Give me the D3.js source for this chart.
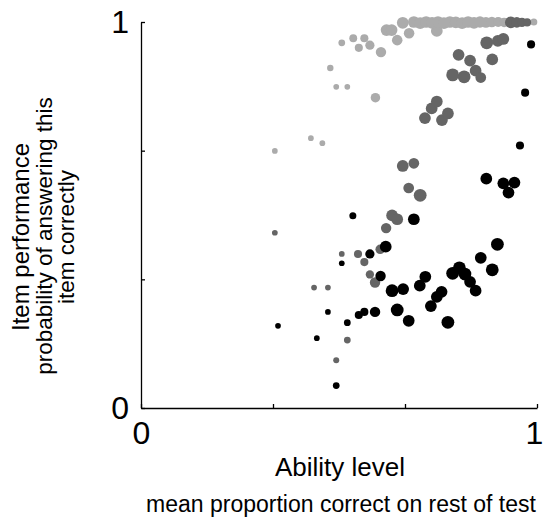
<!DOCTYPE html>
<html>
<head>
<meta charset="utf-8">
<script src="https://cdn.jsdelivr.net/npm/d3@7"></script>
<style>
  body { margin: 0; background: #fff; }
  svg { display: block; font-family: "Liberation Sans", Arial, Helvetica, sans-serif; }
</style>
</head>
<body>
<svg id="chart"></svg>
<script>
// Ability level (x), proportion correct (y) and students per group (n) for each item type
// easy items (light grey)
var easyX = [0.338, 0.429, 0.458, 0.478, 0.493, 0.521, 0.592, 0.507, 0.536, 0.550, 0.564, 0.578, 0.606,
  0.620, 0.633, 0.647, 0.661, 0.677, 0.747,
  0.689, 0.705, 0.720, 0.735, 0.750, 0.765, 0.780, 0.795, 0.811, 0.826, 0.841, 0.856, 0.871, 0.886, 0.902, 0.917, 0.992];
var easyY = [0.666, 0.699, 0.686, 0.881, 0.832, 0.832, 0.804, 0.946, 0.958, 0.933, 0.958, 0.940, 0.922,
  0.979, 0.979, 0.953, 0.998, 0.971, 0.977,
  1.000, 0.997, 1.000, 0.998, 1.000, 0.997, 1.000, 0.999, 0.997, 1.000, 0.998, 1.000, 0.999, 1.000, 1.000, 0.999, 1.000];
var easyN = [20, 20, 20, 25, 20, 20, 55, 28, 38, 40, 40, 52, 66,
  82, 82, 68, 84, 68, 84,
  84, 84, 84, 84, 84, 84, 84, 84, 84, 84, 84, 78, 72, 66, 60, 55, 30];

// medium items (dark grey)
var mediumX = [0.338, 0.437, 0.472, 0.493, 0.521, 0.507, 0.548, 0.564, 0.578, 0.591, 0.604, 0.619,
  0.634, 0.647, 0.661, 0.689, 0.676, 0.705, 0.717, 0.734, 0.747, 0.760, 0.775, 0.787, 0.816,
  0.802, 0.831, 0.845, 0.858, 0.873, 0.887, 0.901, 0.915, 0.934, 0.949, 0.962, 0.975];
var mediumY = [0.454, 0.312, 0.312, 0.124, 0.176, 0.399, 0.399, 0.378, 0.346, 0.325, 0.411, 0.466,
  0.499, 0.489, 0.627, 0.634, 0.570, 0.551, 0.751, 0.776, 0.794, 0.746, 0.763, 0.863, 0.858,
  0.915, 0.900, 0.874, 0.856, 0.946, 0.903, 0.951, 0.956, 0.999, 0.999, 0.999, 0.999];
var mediumN = [20, 20, 20, 22, 28, 20, 40, 40, 42, 66, 55, 66,
  84, 84, 84, 70, 70, 100, 84, 84, 84, 84, 84, 100, 100,
  84, 84, 84, 70, 100, 84, 84, 84, 84, 68, 52, 40];

// hard items (black)
var hardX = [0.346, 0.444, 0.472, 0.493, 0.507, 0.521, 0.535, 0.550, 0.564, 0.578, 0.591, 0.605,
  0.618, 0.634, 0.647, 0.662, 0.676, 0.689, 0.704, 0.718, 0.732, 0.747, 0.759, 0.775, 0.787,
  0.804, 0.818, 0.831, 0.845, 0.858, 0.887, 0.900, 0.872, 0.915, 0.943, 0.928, 0.957, 0.970, 0.985];
var hardY = [0.213, 0.181, 0.249, 0.058, 0.375, 0.221, 0.498, 0.241, 0.249, 0.399, 0.249, 0.342,
  0.418, 0.304, 0.254, 0.308, 0.226, 0.489, 0.317, 0.340, 0.264, 0.288, 0.301, 0.222, 0.349,
  0.363, 0.347, 0.327, 0.304, 0.389, 0.358, 0.424, 0.594, 0.582, 0.584, 0.558, 0.680, 0.817, 0.942];
var hardN = [20, 20, 20, 28, 20, 28, 30, 40, 40, 52, 66, 66,
  84, 100, 100, 84, 84, 84, 84, 84, 84, 84, 84, 100, 100,
  100, 100, 84, 84, 84, 100, 100, 84, 84, 84, 84, 40, 40, 40];

var yTicks = [0, 1 / 3, 2 / 3, 1];
var xTicks = [0, 1 / 3, 2 / 3, 1];

var seriesList = [
  { x: easyX, y: easyY, n: easyN, color: "#ababab" },
  { x: mediumX, y: mediumY, n: mediumN, color: "#656565" },
  { x: hardX, y: hardY, n: hardN, color: "#000000" }
];

var width = 544, height = 519;
var svg = d3.select("#chart").attr("width", width).attr("height", height);

var x = d3.scaleLinear().domain([0, 1]).range([141, 537]);
var y = d3.scaleLinear().domain([0, 1]).range([408, 22]);
var r = d3.scaleSqrt().domain([0, 100]).range([0, 6.4]);

// axes: inward ticks, only the ends labelled
var xAxis = svg.append("g")
  .attr("transform", "translate(0," + y(0) + ")")
  .call(d3.axisBottom(x).tickValues(xTicks).tickSizeInner(-4).tickSizeOuter(0).tickPadding(13)
    .tickFormat(d => (d === 0 || d === 1) ? d3.format("d")(d) : ""));

// keep the right-hand "1" inside the window
xAxis.selectAll(".tick text").filter(d => d === 1).attr("dx", "-3");

var yAxis = svg.append("g")
  .attr("transform", "translate(" + x(0) + ",0)")
  .call(d3.axisLeft(y).tickValues(yTicks).tickSizeInner(-4).tickSizeOuter(0).tickPadding(12)
    .tickFormat(d => (d === 0 || d === 1) ? d3.format("d")(d) : ""));

svg.selectAll(".domain").attr("stroke", "#000").attr("stroke-width", 1.3);
svg.selectAll(".tick line").attr("stroke", "#000").attr("stroke-width", 1.3);
svg.selectAll(".tick text").attr("fill", "#000").style("font-size", "32px").style("font-family", "Liberation Sans, Arial, sans-serif");

// points, light grey first so the darker series sit on top
seriesList.forEach(function (s) {
  var pts = s.x.map((v, i) => ({ x: v, y: s.y[i], n: s.n[i] }));
  svg.append("g")
    .selectAll("circle")
    .data(pts)
    .join("circle")
    .attr("cx", d => x(d.x))
    .attr("cy", d => y(d.y))
    .attr("r", d => r(d.n))
    .attr("fill", s.color);
});

// x labels
svg.append("text")
  .attr("x", 340)
  .attr("y", 476)
  .attr("text-anchor", "middle")
  .style("font-size", "26px")
  .text("Ability level");

svg.append("text")
  .attr("x", 341)
  .attr("y", 512)
  .attr("text-anchor", "middle")
  .style("font-size", "23px")
  .text("mean proportion correct on rest of test");

// y labels
svg.append("text")
  .attr("transform", "translate(29,237)rotate(-90)")
  .attr("text-anchor", "middle")
  .style("font-size", "24px")
  .text("Item performance");

svg.append("text")
  .attr("transform", "translate(52,236)rotate(-90)")
  .attr("text-anchor", "middle")
  .style("font-size", "22.5px")
  .text("probability of answering this");

svg.append("text")
  .attr("transform", "translate(74,237)rotate(-90)")
  .attr("text-anchor", "middle")
  .style("font-size", "22.5px")
  .text("item correctly");
</script>
</body>
</html>
